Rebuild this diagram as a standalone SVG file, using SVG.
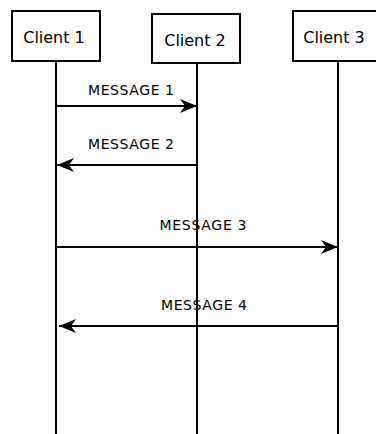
<svg xmlns="http://www.w3.org/2000/svg" width="376" height="434" viewBox="0 0 376 434">
<style>
.box{fill:#fff;stroke:#000;stroke-width:2}
.life{stroke:#000;stroke-width:2}
.msg{stroke:#000;stroke-width:2;fill:none}
.name{font-family:"DejaVu Sans",sans-serif;font-size:16px;fill:#000;text-anchor:middle}
.lbl{font-family:"DejaVu Sans",sans-serif;font-size:14px;fill:#000;text-anchor:middle}
</style>
<defs>
<marker id="ah" markerWidth="20" markerHeight="16" refX="18" refY="8" orient="auto" markerUnits="userSpaceOnUse">
<path d="M18,8 L1,1 L6,8 L1,15 Z" fill="#000"/>
</marker>
</defs>
<rect width="376" height="434" fill="#fff"/>
<g id="lifelines">
<line class="life" x1="56" y1="61" x2="56" y2="434"/>
<line class="life" x1="197" y1="63" x2="197" y2="434"/>
<line class="life" x1="338" y1="61" x2="338" y2="434"/>
</g>
<g id="client1">
<rect class="box" x="12" y="11" width="88" height="50"/>
<text class="name" x="54" y="43">Client 1</text>
</g>
<g id="client2">
<rect class="box" x="152" y="14" width="88" height="49"/>
<text class="name" x="195" y="46">Client 2</text>
</g>
<g id="client3">
<rect class="box" x="293" y="11" width="88" height="50"/>
<text class="name" x="334" y="43">Client 3</text>
</g>
<g id="connectors">
<line class="msg" x1="56" y1="106" x2="197" y2="106" marker-end="url(#ah)"/>
<line class="msg" x1="197" y1="165" x2="57" y2="165" marker-end="url(#ah)"/>
<line class="msg" x1="56" y1="247" x2="338" y2="247" marker-end="url(#ah)"/>
<line class="msg" x1="338" y1="326" x2="59" y2="326" marker-end="url(#ah)"/>
<text class="lbl" x="131" y="95" textLength="86">MESSAGE 1</text>
<text class="lbl" x="131" y="149" textLength="86">MESSAGE 2</text>
<text class="lbl" x="203" y="230" textLength="87">MESSAGE 3</text>
<text class="lbl" x="204" y="310" textLength="86">MESSAGE 4</text>
</g>
</svg>
